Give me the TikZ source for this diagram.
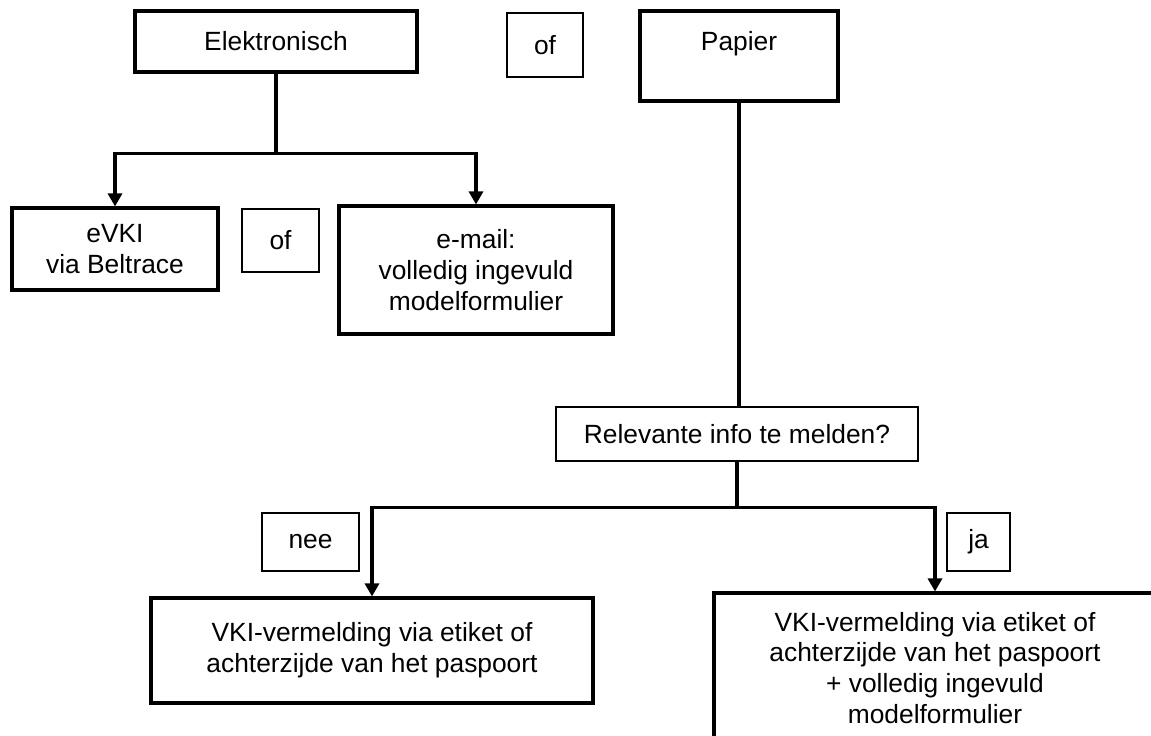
\documentclass[tikz,border=0pt]{standalone}
\usepackage{fontspec}
\setmainfont{Liberation Sans}
\usetikzlibrary{arrows.meta}

\begin{document}
\begin{tikzpicture}[x=0.02cm,y=-0.02cm,>={Triangle[length=0.26cm,width=0.28cm]},
	line width=1.8pt,font=\fontsize{15}{17.6}\selectfont]
	\tikzstyle{box}=[draw=black,line width=1.8pt,inner sep=0pt,align=center]
	\tikzstyle{keuze}=[draw=black,line width=0.9pt,inner sep=0pt,align=center]
	
	\path[use as bounding box,clip] (0,0) rectangle (1151,735);
	
	\node[box,minimum width=5.64cm,minimum height=1.22cm] (elek) at (276,41.5) {Elektronisch};
	\node[keuze,minimum width=1.52cm,minimum height=1.28cm] (of1) at (545,45) {of};
	\node[box,minimum width=3.96cm,minimum height=1.8cm] (papier) at (739,56) {Papier\\~};
	\node[box,minimum width=4.12cm,minimum height=1.64cm] (evki) at (115,249) {eVKI\\via Beltrace};
	\node[keuze,minimum width=1.54cm,minimum height=1.26cm] (of2) at (280.5,240.5) {of};
	\node[box,minimum width=5.48cm,minimum height=2.56cm] (email) at (476,270) {e-mail:\\volledig ingevuld\\modelformulier};
	\node[keuze,minimum width=7.24cm,minimum height=1.08cm] (relev) at (737,434) {Relevante info te melden?};
	\node[keuze,minimum width=1.94cm,minimum height=1.16cm] (nee) at (310.5,542) {nee};
	\node[keuze,minimum width=1.26cm,minimum height=1.16cm] (ja) at (978.5,542) {ja};
	\node[box,minimum width=8.84cm,minimum height=2.1cm] (vki1) at (372,650.5) {VKI-vermelding via etiket of\\achterzijde van het paspoort};
	\node[box,minimum width=8.84cm,minimum height=3cm] (vki2) at (935,668) {VKI-vermelding via etiket of\\achterzijde van het paspoort\\+ volledig ingevuld\\modelformulier};
	
	% elektronisch
	\draw (elek.south) -- ++(0,80) coordinate (ej);
	\draw[->] (ej) -| (evki);
	\draw[->] (ej) -| (email);
	
	% papier
	\draw (papier.south) -- (papier.south |- relev.north);
	\draw (relev.south) -- ++(0,46) coordinate (rj);
	\draw[->] (rj) -| (vki1);
	\draw[->] (rj) -| (vki2);
\end{tikzpicture}
\end{document}
